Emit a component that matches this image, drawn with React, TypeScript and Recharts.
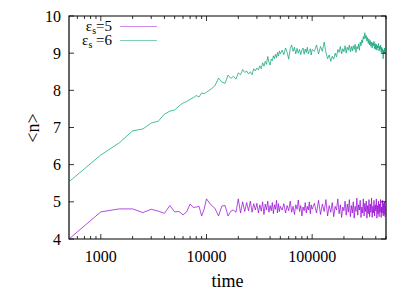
import React from "react";
import { LineChart, Line, XAxis, YAxis, ReferenceArea } from "recharts";

// sampling times (log x axis)
const times = [
  500, 1000, 1500, 2000, 2500, 3000, 3500, 4000, 4500, 5000,
  5500, 6000, 6500, 7000, 7500, 8000, 8500, 9000, 9500, 10000,
  11000, 12000, 13000, 14000, 15000, 16000, 17000, 18000, 19000, 20000,
  21000, 22000, 23000, 24000, 25000, 26000, 27000, 28000, 29000, 30000,
  31000, 32000, 33000, 34000, 35000, 36000, 37000, 38000, 39000, 40000,
  41000, 42000, 43000, 44000, 45000, 46000, 47000, 48000, 49000, 50000,
  52000, 54000, 56000, 58000, 60000, 62000, 64000, 66000, 68000, 70000,
  72000, 74000, 76000, 78000, 80000, 82000, 84000, 86000, 88000, 90000,
  92000, 94000, 96000, 98000, 100000,
  105000, 110000, 115000, 120000, 125000, 130000, 135000, 140000, 145000, 150000,
  155000, 160000, 165000, 170000, 175000, 180000, 185000, 190000, 195000, 200000,
  205000, 210000, 215000, 220000, 225000, 230000, 235000, 240000, 245000, 250000,
  255000, 260000, 265000, 270000, 275000, 280000, 285000, 290000, 295000, 300000,
  305000, 310000, 315000, 320000, 325000, 330000, 335000, 340000, 345000, 350000,
  355000, 360000, 365000, 370000, 375000, 380000, 385000, 390000, 395000, 400000,
  405000, 410000, 415000, 420000, 425000, 430000, 435000, 440000, 445000, 450000,
  455000, 460000, 465000, 470000, 475000, 480000, 485000, 490000, 495000, 500000,
];

// <n> for eps_s = 5
const eps5 = [
  4.0, 4.73, 4.81, 4.81, 4.71, 4.8, 4.75, 4.69, 4.9, 4.73,
  4.74, 4.65, 4.73, 4.94, 4.85, 4.86, 4.88, 4.62, 4.8, 5.08,
  4.92, 4.83, 4.62, 4.89, 4.9, 4.62, 4.75, 4.78, 4.72, 5.08,
  4.7, 5.0, 4.74, 4.98, 4.76, 5.02, 4.72, 4.95, 4.78, 4.96,
  4.7, 4.92, 4.75, 5.0, 4.66, 4.94, 4.78, 5.02, 4.72, 4.9,
  4.76, 4.98, 4.68, 4.92, 4.8, 5.04, 4.7, 4.95, 4.74, 4.88,
  4.78, 4.95, 4.7, 4.9, 4.76, 5.02, 4.72, 4.88, 4.66, 4.92,
  4.8, 5.05, 4.74, 4.9, 4.62, 4.86, 4.76, 4.98, 4.7, 4.88,
  4.78, 5.0, 4.68, 4.92, 4.8,
  4.96, 4.7, 5.04, 4.66, 4.94, 4.74, 5.06, 4.62, 4.9, 4.72,
  4.98, 4.6, 4.88, 4.78, 5.08, 4.68, 4.92, 4.58, 4.86, 4.76,
  5.02, 4.64, 4.94, 4.72, 5.06, 4.6, 4.9, 4.7, 5.0, 4.56,
  4.88, 4.74, 5.1, 4.64, 4.92, 4.78, 5.04, 4.58, 4.86, 4.7,
  5.08, 4.62, 4.96, 4.74, 5.02, 4.56, 4.9, 4.68, 5.06, 4.6,
  4.94, 4.72, 5.1, 4.58, 4.88, 4.7, 5.04, 4.62, 4.92, 4.76,
  5.08, 4.56, 4.9, 4.68, 5.02, 4.6, 4.94, 4.72, 5.06, 4.58,
  4.86, 4.7, 5.04, 4.62, 4.96, 4.66, 5.0, 4.6, 4.88, 4.74,
];

// <n> for eps_s = 6
const eps6 = [
  5.54, 6.26, 6.59, 6.91, 6.96, 7.12, 7.17, 7.36, 7.44, 7.47,
  7.58, 7.66, 7.7, 7.76, 7.8, 7.86, 7.82, 7.93, 7.91, 7.95,
  8.03, 8.12, 8.33, 8.22, 8.19, 8.41, 8.32, 8.38, 8.3, 8.47,
  8.42, 8.56, 8.48, 8.52, 8.44, 8.5, 8.42, 8.58, 8.52, 8.6,
  8.55, 8.66, 8.58, 8.74, 8.65, 8.78, 8.7, 8.91, 8.76, 8.68,
  8.84, 8.8, 8.93, 8.85, 8.97, 8.88, 9.02, 8.92, 9.06, 8.98,
  9.08, 8.96, 9.14, 9.02, 8.84, 9.12, 9.22, 9.05, 9.16, 8.98,
  9.13, 9.0, 9.1, 8.96, 9.08, 9.14, 8.97, 9.11, 9.02, 9.16,
  8.98, 9.07, 9.12, 8.95, 9.1,
  9.05, 9.22, 8.98, 9.18, 9.05, 9.3, 9.02, 8.85, 8.95, 8.78,
  8.92, 8.84, 9.0, 8.9, 9.1, 9.02, 9.18, 8.98, 9.12, 9.04,
  9.2, 9.0, 9.16, 9.08, 9.22, 9.04, 9.18, 9.06, 9.2, 9.1,
  9.24, 9.02, 9.18, 9.12, 9.25, 9.08, 9.3, 9.2, 9.36, 9.28,
  9.45, 9.38, 9.55, 9.4, 9.48, 9.32, 9.42, 9.26, 9.38, 9.22,
  9.34, 9.18, 9.3, 9.14, 9.28, 9.2, 9.32, 9.12, 9.26, 9.1,
  9.24, 9.08, 9.2, 9.14, 9.26, 9.06, 9.18, 9.1, 9.22, 9.02,
  9.16, 9.04, 9.12, 8.85, 9.08, 8.98, 9.14, 9.0, 9.1, 9.04,
];

const xTicks = [
  600, 700, 800, 900, 1000, 2000, 3000, 4000, 5000, 6000, 7000, 8000, 9000,
  10000, 20000, 30000, 40000, 50000, 60000, 70000, 80000, 90000,
  100000, 200000, 300000, 400000, 500000,
];
const xMajor = [1000, 10000, 100000];
const yTicks = [4, 5, 6, 7, 8, 9, 10];

const W = 415;
const H = 291;
const TOP = 16;
const BOTTOM = 239;
const LEFT = 69;
const RIGHT = 386;

const PURPLE = "#9400d3";
const GREEN = "#009e73";

const data = times.map((t, i) => ({ t, e5: eps5[i], e6: eps6[i] }));

const fontCss = `
#root, #root *, #root svg text, #root svg tspan {
  font-family: "Liberation Serif", "Times New Roman", serif !important;
}
`;

const XTick = (props: any) => {
  const { x, payload } = props;
  const v = payload.value;
  const major = xMajor.includes(v);
  const len = major ? 5 : 3;
  return (
    <g>
      <line x1={x} x2={x} y1={BOTTOM} y2={BOTTOM - len} stroke="#000" strokeWidth={0.8} />
      <line x1={x} x2={x} y1={TOP} y2={TOP + len} stroke="#000" strokeWidth={0.8} />
      {major && (
        <text x={x} y={262} textAnchor="middle" fontSize={16} fill="#000">
          {v}
        </text>
      )}
    </g>
  );
};

const YTick = (props: any) => {
  const { y, payload } = props;
  return (
    <g>
      <line x1={LEFT} x2={LEFT + 5} y1={y} y2={y} stroke="#000" strokeWidth={0.8} />
      <line x1={RIGHT} x2={RIGHT - 5} y1={y} y2={y} stroke="#000" strokeWidth={0.8} />
      <text x={61} y={y} textAnchor="end" dominantBaseline="central" fontSize={16} fill="#000">
        {payload.value}
      </text>
    </g>
  );
};

const txt: React.CSSProperties = {
  position: "absolute",
  color: "#000",
  whiteSpace: "nowrap",
  lineHeight: 1,
};

export default function App() {
  return (
    <div style={{ position: "absolute", left: 0, top: 0, width: W, height: H, background: "#fff" }}>
      <style>{fontCss}</style>
      <LineChart width={W} height={H} data={data} margin={{ top: TOP, right: W - RIGHT, left: 0, bottom: 0 }}>
        <XAxis
          dataKey="t"
          type="number"
          scale="log"
          domain={[500, 500000]}
          allowDataOverflow
          ticks={xTicks}
          interval={0}
          tick={<XTick />}
          tickLine={false}
          axisLine={false}
          height={H - BOTTOM}
        />
        <YAxis
          type="number"
          domain={[4, 10]}
          ticks={yTicks}
          interval={0}
          tick={<YTick />}
          tickLine={false}
          axisLine={false}
          width={LEFT}
        />
        <ReferenceArea x1={500} x2={500000} y1={4} y2={10} fill="none" stroke="#000" strokeWidth={1.2} />
        <Line
          dataKey="e5"
          stroke={PURPLE}
          strokeWidth={0.7}
          dot={false}
          activeDot={false}
          isAnimationActive={false}
        />
        <Line
          dataKey="e6"
          stroke={GREEN}
          strokeWidth={0.7}
          dot={false}
          activeDot={false}
          isAnimationActive={false}
        />
      </LineChart>
      <svg
        width={W}
        height={H}
        style={{ position: "absolute", left: 0, top: 0, pointerEvents: "none" }}
      >
        <line x1={120} x2={157} y1={26.5} y2={26.5} stroke={PURPLE} strokeOpacity={0.45} />
        <line x1={120} x2={157} y1={40.5} y2={40.5} stroke={GREEN} strokeOpacity={0.5} />
      </svg>
      {/* legend labels */}
      <div style={{ ...txt, right: W - 112, top: 19, fontSize: 15 }}>
        ε<sub style={{ fontSize: 10, verticalAlign: -3 }}>s</sub>=5
      </div>
      <div style={{ ...txt, right: W - 112, top: 33, fontSize: 15 }}>
        ε<sub style={{ fontSize: 10, verticalAlign: -3 }}>s</sub> =6
      </div>
      {/* axis titles */}
      <div
        style={{
          ...txt,
          left: 33,
          top: 128,
          fontSize: 18,
          transform: "translate(-50%, -50%) rotate(-90deg)",
        }}
      >
        {"<n>"}
      </div>
      <div style={{ ...txt, left: (LEFT + RIGHT) / 2, top: 272, fontSize: 18, transform: "translateX(-50%)" }}>
        time
      </div>
    </div>
  );
}
